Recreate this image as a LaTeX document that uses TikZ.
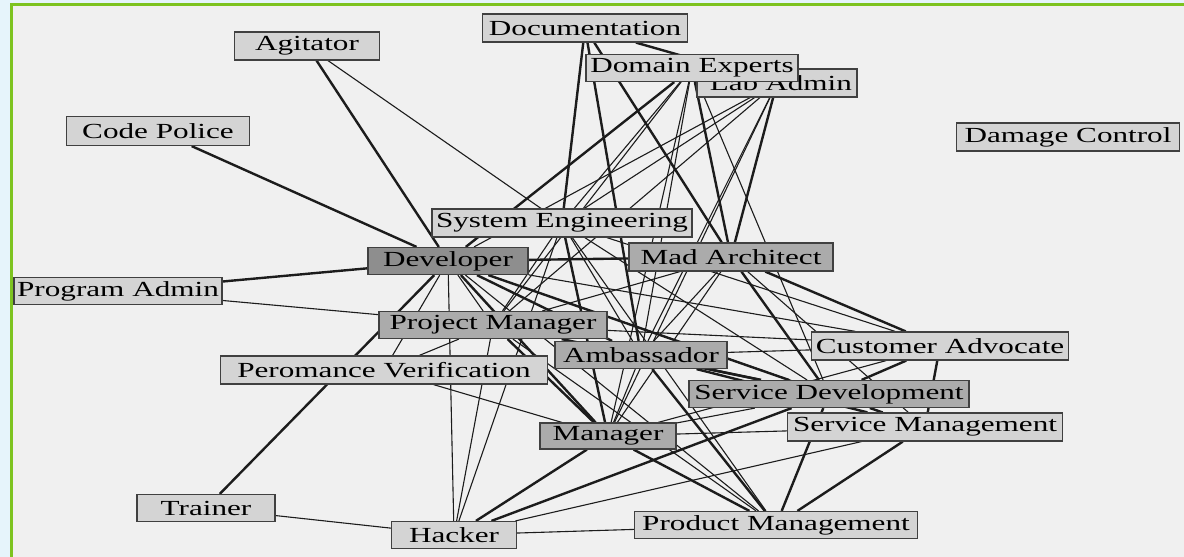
\documentclass[tikz,border=0pt]{standalone}
\usepackage{fontspec}
\setmainfont{Liberation Serif}
\newfontfamily\boxfont[FakeStretch=1.45]{Liberation Serif}
\pgfdeclarelayer{paper}
\pgfdeclarelayer{edges}
\pgfsetlayers{paper,edges,main}
\definecolor{paperc}{HTML}{F0F0F0}
\definecolor{outerblue}{HTML}{E6F4FB}
\definecolor{framegreen}{HTML}{7DC320}
\definecolor{lightbox}{HTML}{D4D4D4}
\definecolor{midbox}{HTML}{ABABAB}
\definecolor{darkbox}{HTML}{8E8E8E}
\definecolor{boxline}{HTML}{404040}
\definecolor{linec}{HTML}{1C1C1C}
\begin{document}
\begin{tikzpicture}[x=1pt,y=-1pt,
  box/.style={draw=boxline, line width=1.2pt, fill=lightbox, inner sep=0pt,
    font=\boxfont\fontsize{21.5}{21.5}\selectfont, text=black},
  midb/.style={box, fill=midbox},
  darkb/.style={box, fill=darkbox},
  thk/.style={draw=linec, line width=2.4pt},
  thn/.style={draw=linec, line width=1.1pt}]
\useasboundingbox (0,0) rectangle (1184,557);
\begin{pgfonlayer}{paper}
  \fill[outerblue] (0,0) rectangle (1184,557);
  \fill[paperc] (12,5) rectangle (1184,557);
  \draw[framegreen, line width=2.6pt] (11.3,557) -- (11.3,4.3) -- (1184,4.3);
\end{pgfonlayer}

% nodes
\node[box, minimum width=145pt, minimum height=28pt] (ag) at (307,46) {Agitator};
\node[box, minimum width=205pt, minimum height=28pt] (doc) at (585,28) {Documentation};
\node[box, minimum width=160pt, minimum height=28pt, text width=150pt, align=right] (la) at (777,83) {Lab Admin};
\node[box, minimum width=212pt, minimum height=27pt] (de) at (692,68) {Domain Experts};
\node[box, minimum width=183pt, minimum height=29pt] (cp) at (158,131) {Code Police};
\node[box, minimum width=223pt, minimum height=28pt] (dc) at (1068,137) {Damage Control};
\node[box, minimum width=260pt, minimum height=28pt] (se) at (562,223) {System Engineering};
\node[darkb, minimum width=160pt, minimum height=27pt] (dev) at (448,261) {Developer};
\node[midb, minimum width=204pt, minimum height=28pt] (ma) at (731,257) {Mad Architect};
\node[box, minimum width=208pt, minimum height=27pt] (pa) at (118,291) {Program Admin};
\node[midb, minimum width=228pt, minimum height=27pt] (pm) at (493,325) {Project Manager};
\node[box, minimum width=327pt, minimum height=28pt] (pv) at (384,370) {Peromance Verification};
\node[midb, minimum width=172pt, minimum height=27pt] (amb) at (641,355) {Ambassador};
\node[box, minimum width=257pt, minimum height=28pt] (ca) at (940,346) {Customer Advocate};
\node[midb, minimum width=280pt, minimum height=27pt] (sd) at (829,394) {Service Development};
\node[box, minimum width=275pt, minimum height=28pt] (sm) at (925,427) {Service Management};
\node[midb, minimum width=136pt, minimum height=26pt] (mgr) at (608,436) {Manager};
\node[box, minimum width=138pt, minimum height=27pt] (tr) at (206,508) {Trainer};
\node[box, minimum width=125pt, minimum height=27pt] (hk) at (454,535) {Hacker};
\node[box, minimum width=283pt, minimum height=27pt] (prm) at (776,525) {Product Management};

\begin{pgfonlayer}{edges}
% thick connectors
\foreach \a/\b in {ag/dev, cp/dev, pa/dev, doc/se, doc/la, doc/amb, doc/ma,
  de/dev, de/ma, la/ma, dev/ma, dev/amb, dev/mgr, dev/sd, tr/dev, hk/mgr,
  mgr/prm, amb/prm, amb/sd, amb/sm, ma/ca, ma/sd, sd/prm, ca/sd, ca/sm,
  sd/sm, sm/prm, pm/mgr, pm/sd, se/mgr, hk/sd}
  \draw[thk] (\a) -- (\b);
% thin connectors
\foreach \a/\b in {ag/se, pa/pm, de/se, de/pm, de/amb, de/sd, de/mgr,
  la/se, la/pm, la/mgr, la/amb, la/dev, tr/hk, hk/dev, hk/pm, hk/se,
  hk/sm, hk/prm, mgr/sm, mgr/sd, pv/mgr, pv/pm, amb/ca, dev/pm, dev/ca,
  dev/sm, dev/pv, se/pm, se/ca, se/sd, se/amb, se/prm, ma/sm, ma/mgr,
  ma/amb, ma/pm, pm/ca, pm/amb, pm/prm, dev/prm, mgr/ca, amb/mgr}
  \draw[thn] (\a) -- (\b);
\end{pgfonlayer}
\end{tikzpicture}
\end{document}
